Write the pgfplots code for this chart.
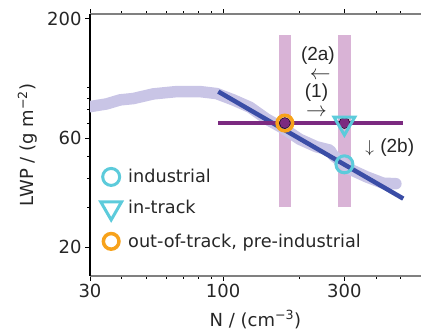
\documentclass[border=0pt]{standalone}
\usepackage{pgfplots}
\pgfplotsset{compat=1.18}
\usepackage{fontspec}
\setmainfont{DejaVu Sans}
\newfontfamily\arial{Liberation Sans}
\definecolor{band}{HTML}{C9C5E6}
\definecolor{bline}{HTML}{3A4DA6}
\definecolor{purp}{HTML}{7B2A80}
\definecolor{pinkbar}{HTML}{D9B3D6}
\definecolor{cyanm}{HTML}{5CCBDB}
\definecolor{orng}{HTML}{F7A21B}
\pgfplotsset{mylegend/.style={legend image code/.code={\path[draw=none,fill=none] (-12pt,-9pt) rectangle (15pt,9pt);\draw[##1] plot coordinates {(0pt,0pt)};}}}
\begin{document}
\begin{tikzpicture}
\begin{axis}[
  name=ax, scale only axis, width=331pt, height=262pt,
  xmode=log, ymode=log, xmin=30, xmax=600, ymin=15, ymax=210,
  separate axis lines,
  axis x line*=box, axis y line*=left,
  x axis line style={draw=gray, line width=1.2pt},
  y axis line style={draw=black, line width=2pt},
  xtick={30,100,300}, xticklabels={30,100,300},
  minor xtick={40,50,60,70,80,90,200,400,500},
  ytick={20,60,200}, yticklabels={20,60,200},
  minor ytick={30,40,50,70,80,90,100},
  tick align=outside,
  major tick length=5pt, minor tick length=3pt,
  every tick/.style={black, line width=0.9pt},
  tick label style={font=\fontsize{18}{20}\selectfont, text=black!85},
  /pgf/number format/assume math mode=true,
  xlabel={N / (cm\textsuperscript{−3})},
  ylabel={LWP / (g m\textsuperscript{−2})},
  label style={font=\fontsize{18}{20}\selectfont, text=black!85},
  xlabel style={at={(axis description cs:0.5,-0.191)}, anchor=base},
  ylabel style={at={(axis description cs:-0.171,0.5)}, anchor=base, rotate=0},
  legend style={at={(axis description cs:0.015,0.08)}, anchor=south west, draw=none, fill=none,
    font=\fontsize{17.7}{20}\selectfont, text=black!85, row sep=12pt, inner sep=4pt},
  legend cell align=left,
]
% pink bars
\addplot[pinkbar, line width=12.3pt, forget plot] coordinates {(175,30) (175,170.6)};
\addplot[pinkbar, line width=12.3pt, forget plot] coordinates {(300,30) (300,170.6)};
% band
\addplot[band, line width=11.5pt, line join=round, line cap=round, forget plot] coordinates {
(28,82.0) (30,82.6) (34.9,84.9) (39.4,88.4) (44.4,89.6) (53.2,93.9) (65.7,96.1) (81.2,96.1)
(94.4,94.2) (109.7,88.4) (127.6,82.1) (148.4,72.9) (172.5,66.4) (200.5,59.4) (233.2,55.1)
(263,53.3) (271,50.6) (315,44.0) (367,40.7) (426,38.2) (478,38.0)};
% blue line
\addplot[bline, line width=4.5pt, forget plot] coordinates {(95.8,96.1) (511,32.7)};
% purple line
\addplot[purp, line width=4.5pt, forget plot] coordinates {(95.8,70) (511,70)};
% purple dots
\addplot[only marks, mark=*, mark size=5.5pt, mark options={fill=purp, draw=none}, forget plot]
  coordinates {(175,70) (300,70)};
% markers
\addplot[only marks, mark=o, mark size=8.5pt, mark options={draw=cyanm, line width=3pt}, mylegend]
  coordinates {(300,46.2)};
\addlegendentry{industrial}
\addplot[only marks, mark=triangle, mark size=12pt, mark options={draw=cyanm, line width=3pt, rotate=180}, mylegend]
  coordinates {(300,70)};
\addlegendentry{in-track}
\addplot[only marks, mark=o, mark size=7.8pt, mark options={draw=orng, line width=3.5pt}, mylegend]
  coordinates {(175,70)};
\addlegendentry{out-of-track, pre-industrial}
% annotations
\node[inner sep=0pt, font=\arial\fontsize{19}{20}\selectfont, text=black!85] at (axis cs:236,137.5) {(2a)};
\node[inner sep=0pt, font=\fontsize{20}{20}\selectfont, text=black!85] at (axis cs:241,113) {$\leftarrow$};
\node[inner sep=0pt, font=\arial\fontsize{19}{20}\selectfont, text=black!85] at (axis cs:233,95) {(1)};
\node[inner sep=0pt, font=\fontsize{20}{20}\selectfont, text=black!85] at (axis cs:233,78) {$\rightarrow$};
\node[inner sep=0pt, font=\arial\fontsize{19}{20}\selectfont, text=black!85] at (axis cs:452,54.9) {$\downarrow$\,\,(2b)};
\draw[black!80, line width=0.9pt] (rel axis cs:0,0) -- (rel axis cs:1,0);
\end{axis}
\pgfresetboundingbox
\path ([shift={(-90pt,-55pt)}]ax.south west) rectangle ([shift={(0pt,14pt)}]ax.north east);
\end{tikzpicture}
\end{document}
